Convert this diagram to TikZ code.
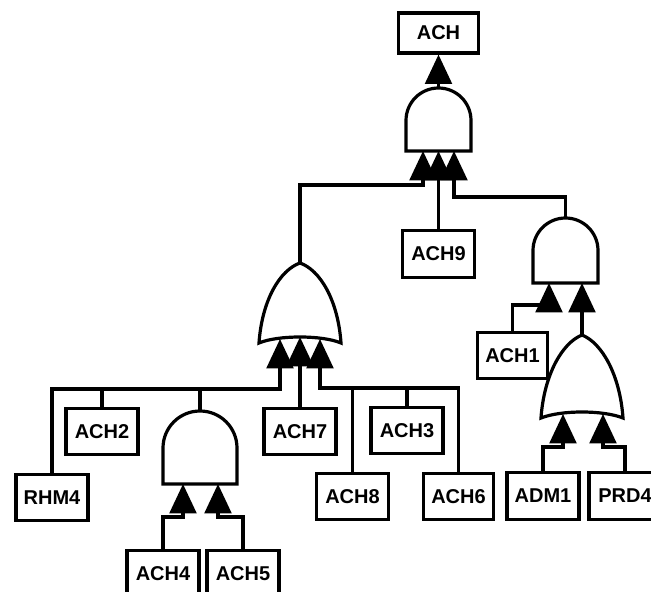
\documentclass[tikz,border=0pt]{standalone}
\usepackage{fontspec}
\setmainfont{Liberation Sans}
\usetikzlibrary{arrows.meta}

\begin{document}
\begin{tikzpicture}[x=0.75pt, y=0.75pt, yscale=-1, line width=2.4pt,
    event-box/.style={draw, fill=white, minimum width=54pt, minimum height=35pt, inner sep=0pt, font=\bfseries\fontsize{15}{17}\selectfont},
    feed/.style={-{Triangle[length=22pt, width=20pt]}}]
    \useasboundingbox (0,0) rectangle (651,592);
    \clip (0,0) rectangle (651,592);

    % gates
    \draw (406,151) -- (406,120.5) arc[start angle=180, end angle=360, radius=32.5] -- (471,151) -- cycle;
    \draw (533,283) -- (533,250.5) arc[start angle=180, end angle=360, radius=32.5] -- (598,283) -- cycle;
    \draw (163,484) -- (163,448) arc[start angle=180, end angle=360, radius=37] -- (237,484) -- cycle;
    \draw (259,343) .. controls (262,300) and (280,270) .. (300,263) .. controls (320,270) and (338,300) .. (341,343) .. controls (322,335) and (278,335) .. (259,343) -- cycle;
    \draw (541,418) .. controls (544,375) and (562,343) .. (582,335) .. controls (602,343) and (620,375) .. (623,418) .. controls (603,410) and (561,410) .. (541,418) -- cycle;

    \coordinate (g1out) at (438.5,88);
    \coordinate (g1in1) at (423,151);
    \coordinate (g1in2) at (438.5,151);
    \coordinate (g1in3) at (454,151);
    \coordinate (g2out) at (565.5,218);
    \coordinate (g2in1) at (549,283);
    \coordinate (g2in2) at (582,283);
    \coordinate (g3out) at (200,411);
    \coordinate (g3in1) at (183,484);
    \coordinate (g3in2) at (218,484);
    \coordinate (or1out) at (300,263);
    \coordinate (or1in1) at (280,339);
    \coordinate (or1in2) at (300,337);
    \coordinate (or1in3) at (320,339);
    \coordinate (or2out) at (582,335);
    \coordinate (or2in1) at (563,414);
    \coordinate (or2in2) at (603,414);

    % events
    \node[event-box, minimum width=60pt, minimum height=30pt] (ach) at (438.5,33) {ACH};
    \node[event-box] (ach9) at (438.5,254) {ACH9};
    \node[event-box, minimum width=52pt, minimum height=34pt] (ach1) at (512.5,355.5) {ACH1};
    \node[event-box] (adm1) at (543,496) {ADM1};
    \node[event-box] (prd4) at (625,496) {PRD4};
    \node[event-box] (rhm4) at (52,497.5) {RHM4};
    \node[event-box] (ach2) at (102,431.5) {ACH2};
    \node[event-box] (ach7) at (300,431.5) {ACH7};
    \node[event-box] (ach3) at (407,430.5) {ACH3};
    \node[event-box] (ach8) at (352.5,496.5) {ACH8};
    \node[event-box, minimum width=52pt] (ach6) at (458.5,496.5) {ACH6};
    \node[event-box] (ach4) at (163,573.5) {ACH4};
    \node[event-box] (ach5) at (243,573.5) {ACH5};

    % bends
    \coordinate (j1) at (280,389);
    \coordinate (j2) at (320,388);
    \coordinate (j3) at (423,185);
    \coordinate (j4) at (454,197);
    \coordinate (j5) at (549,305);
    \coordinate (j6) at (563,447);
    \coordinate (j7) at (603,447);
    \coordinate (j8) at (183,517);
    \coordinate (j9) at (218,517);

    % connectors
    \draw[feed] (g1out) -- (ach.south);
    \draw[feed] (or1out) |- (j3) -- (g1in1);
    \draw[feed] (ach9.north) -- (g1in2);
    \draw[feed] (g2out) |- (j4) -- (g1in3);
    \draw[feed] (ach1.north) |- (j5) -- (g2in1);
    \draw[feed] (or2out) -- (g2in2);
    \draw[feed] (adm1.north) |- (j6) -- (or2in1);
    \draw[feed] (prd4.north) |- (j7) -- (or2in2);
    \draw[feed] (rhm4.north) |- (j1) -- (or1in1);
    \draw (ach2.north) -- (ach2.north |- j1);
    \draw (g3out) -- (g3out |- j1);
    \draw[feed] (ach7.north) -- (or1in2);
    \draw[feed] (ach6.north) |- (j2) -- (or1in3);
    \draw (ach8.north) -- (ach8.north |- j2);
    \draw (ach3.north) -- (ach3.north |- j2);
    \draw[feed] (ach4.north) |- (j8) -- (g3in1);
    \draw[feed] (ach5.north) |- (j9) -- (g3in2);
\end{tikzpicture}
\end{document}
